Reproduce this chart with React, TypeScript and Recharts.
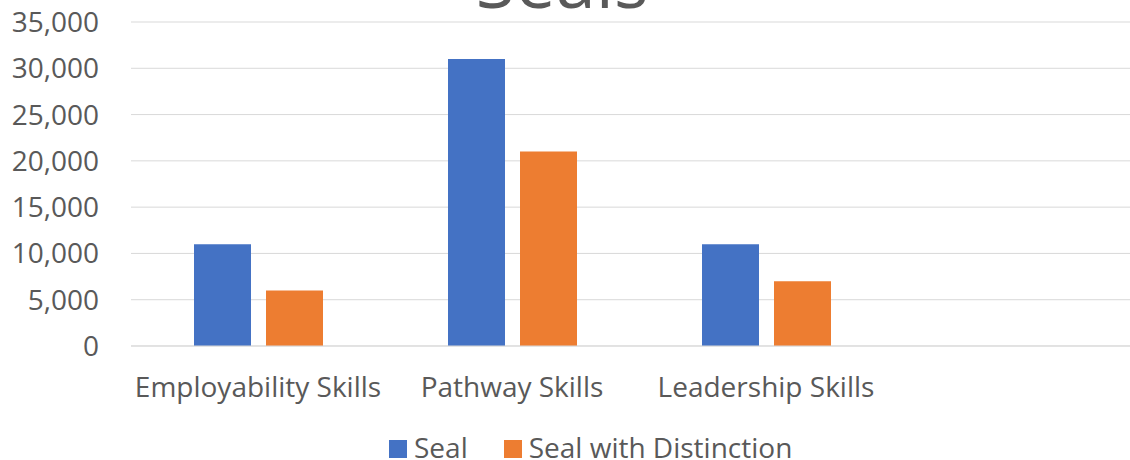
import React from 'react';
import { BarChart, Bar, XAxis, YAxis, CartesianGrid, Legend } from 'recharts';

const categories = ['Employability Skills', 'Pathway Skills', 'Leadership Skills', ''];
const sealValues = [11000, 31000, 11000, null];
const distinctionValues = [6000, 21000, 7000, null];
const yTicks = [0, 5000, 10000, 15000, 20000, 25000, 30000, 35000];
const seriesNames = ['Seal', 'Seal with Distinction'];
const titleText = 'Seals';

const FONT = '"Open Sans", sans-serif';
const TEXT = '#595959';
const BLUE = '#4472C4';
const ORANGE = '#ED7D31';
const GRID = '#D9D9D9';

const data = categories.map((c, i) => ({
  name: c,
  seal: sealValues[i],
  distinction: distinctionValues[i],
}));

const fmt = (v: number) => v.toLocaleString('en-US');

const renderLegend = (props: any) => {
  const payload = props.payload || [];
  return (
    <div style={{ display: 'flex', fontFamily: FONT, fontSize: 28, color: TEXT, lineHeight: '28px', whiteSpace: 'nowrap' }}>
      {payload.map((p: any, i: number) => (
        <div key={i} style={{ display: 'flex', alignItems: 'flex-start', marginRight: 36 }}>
          <span style={{ display: 'inline-block', width: 18, height: 18, background: p.color, marginTop: 7, marginRight: 7 }} />
          <span>{p.value}</span>
        </div>
      ))}
    </div>
  );
};

export default function App() {
  return (
    <div style={{ position: 'absolute', left: 0, top: 0, width: 1130, height: 460, overflow: 'hidden', background: '#fff' }}>
      <BarChart
        width={1160}
        height={460}
        data={data}
        margin={{ top: 22, right: 13, left: 0, bottom: 54 }}
        barSize={57}
        barGap={15}
      >
        <CartesianGrid vertical={false} stroke={GRID} strokeWidth={1} />
        <XAxis
          dataKey="name"
          height={60}
          axisLine={{ stroke: GRID }}
          tickLine={false}
          tickSize={6}
          tickMargin={25}
          interval={0}
          tick={{ fill: TEXT, fontSize: 28, fontFamily: FONT }}
        />
        <YAxis
          width={131}
          domain={[0, 35000]}
          ticks={yTicks}
          interval={0}
          axisLine={false}
          tickLine={false}
          tickSize={6}
          tickMargin={26}
          tickFormatter={fmt}
          tick={{ fill: TEXT, fontSize: 28, fontFamily: FONT }}
        />
        <Legend
          layout="horizontal"
          verticalAlign="middle"
          align="center"
          content={renderLegend}
          wrapperStyle={{ left: 389, top: 433, width: 'auto', height: 'auto' }}
        />
        <Bar dataKey="seal" name={seriesNames[0]} fill={BLUE} isAnimationActive={false} />
        <Bar dataKey="distinction" name={seriesNames[1]} fill={ORANGE} isAnimationActive={false} />
      </BarChart>
      <div
        style={{
          position: 'absolute',
          left: 0,
          top: -56,
          width: 1124,
          textAlign: 'center',
          fontFamily: FONT,
          fontSize: 72,
          lineHeight: '72px',
          color: TEXT,
        }}
      >
        {titleText}
      </div>
    </div>
  );
}
